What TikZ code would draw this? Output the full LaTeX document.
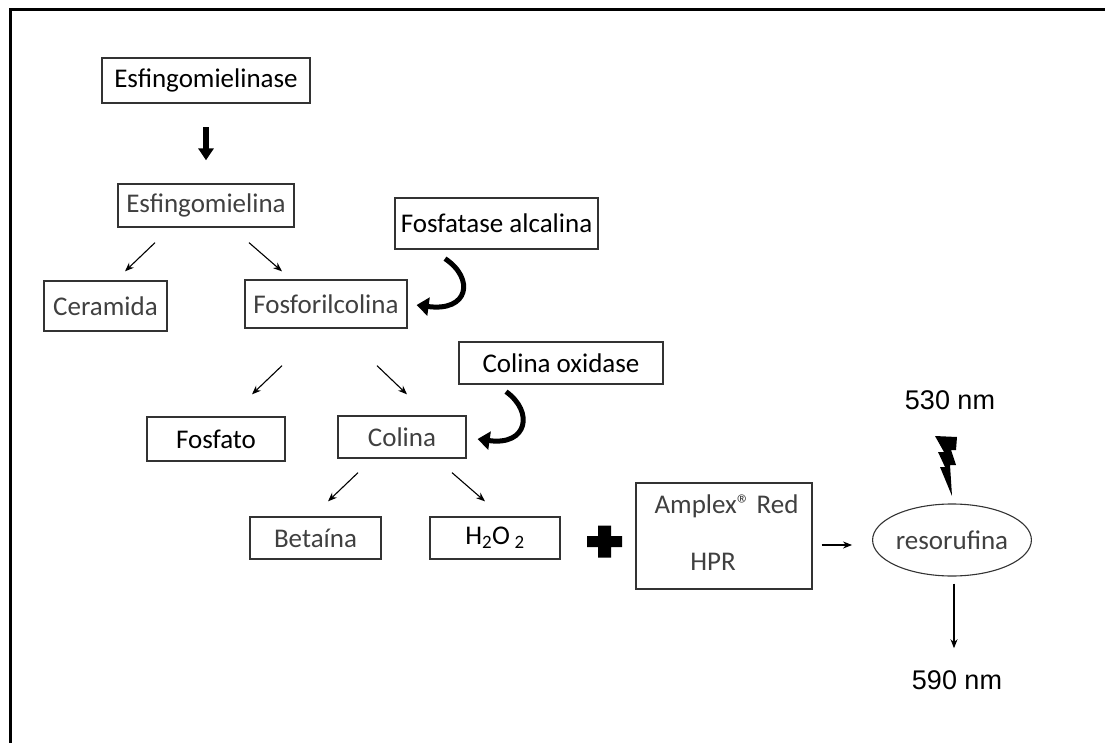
\documentclass[tikz,border=0pt]{standalone}
\usepackage{fontspec}
\setmainfont{Carlito}
\newfontfamily\arialfont{Liberation Sans}
\usetikzlibrary{arrows.meta,shapes.geometric}

\begin{document}
\begin{tikzpicture}[
  x=1pt, y=-1pt,
  every node/.style={inner sep=0pt, font=\fontsize{27}{32}\selectfont, text=black!75},
  caixa/.style={draw=black!80, line width=1.3pt},
  enzima/.style={caixa, text=black},
  seta/.style={line width=1.1pt, -{Stealth[length=9pt, width=7pt]}},
  volta/.style={line width=5pt, -{Triangle[length=12pt, width=18pt]}},
  onda/.style={font=\arialfont\fontsize{27}{32}\selectfont, text=black}
]
\useasboundingbox (0,0) rectangle (1105,743);
\draw[line width=3pt] (10,743) -- (10,9.5) -- (1105,9.5);

\node[enzima, line width=2.5pt, minimum width=208pt, minimum height=45pt] (ase) at (206,80.5) {Esfingomielinase};
\node[caixa, minimum width=176pt, minimum height=43pt] (ina) at (206,205.5) {Esfingomielina};
\node[enzima, minimum width=203pt, minimum height=51pt] (fosfatase) at (496.5,223.5) {Fosfatase alcalina};
\node[caixa, minimum width=123pt, minimum height=50pt] (ceramida) at (105.5,306) {Ceramida};
\node[caixa, minimum width=162pt, minimum height=48pt] (fosforil) at (326,304) {Fosforilcolina};
\node[enzima, minimum width=204pt, minimum height=42pt] (oxidase) at (561,363) {Colina oxidase};
\node[enzima, minimum width=138pt, minimum height=44pt] (fosfato) at (216,439) {Fosfato};
\node[caixa, minimum width=128pt, minimum height=42pt] (colina) at (402,437) {Colina};
\node[caixa, minimum width=131pt, minimum height=42pt] (betaina) at (315.5,538) {Betaína};
\node[enzima, minimum width=130pt, minimum height=42pt] (agua) at (495,538) {H\textsubscript{2}O\,\textsubscript{2}};
\node[caixa, minimum width=176pt, minimum height=106pt] (amplex) at (724,536) {};
\node[anchor=base] (amplexred) at ([shift={(2.5,31)}]amplex.north) {Amplex® Red};
\node[anchor=base] (hpr) at ([shift={(-11,-19)}]amplex.south) {HPR};
\node[ellipse, draw=black!80, line width=1.1pt, minimum width=134pt, minimum height=72pt] (resoruf) at (952,540) {resorufina};
\node[onda] (nm530) at (950,400) {530 nm};
\node[onda] (nm590) at (957,680) {590 nm};
\coordinate (mais) at (604.5,541.5);

\draw[line width=5.5pt, -{Triangle[length=12pt, width=15pt]}] ([shift={(0,23)}]ase.south) -- ([shift={(0,-23)}]ina.north);
\draw[seta] ([shift={(-51,15)}]ina.south) -- ([shift={(19.5,-9)}]ceramida.north);
\draw[seta] ([shift={(43,15)}]ina.south) -- ([shift={(-44,-8)}]fosforil.north);
\draw[seta] ([shift={(-44,37)}]fosforil.south) -- ([shift={(36,-22)}]fosfato.north);
\draw[seta] ([shift={(51,37)}]fosforil.south) -- ([shift={(5,-21)}]colina.north);
\draw[seta] ([shift={(-44,14)}]colina.south) -- ([shift={(12.5,-15)}]betaina.north);
\draw[seta] ([shift={(50,14)}]colina.south) -- ([shift={(-10,-15)}]agua.north);
\draw[volta] ([shift={(-51.5,9)}]fosfatase.south) .. controls +(30,20) and +(52,7) .. ([shift={(9,1)}]fosforil.east);
\draw[volta] ([shift={(-55,7)}]oxidase.south) .. controls +(28,20) and +(50,7) .. ([shift={(11,2)}]colina.east);
\draw[seta] ([shift={(9,9)}]amplex.east) -- ([shift={(-20,5)}]resoruf.west);
\draw[seta] ([shift={(2,7)}]resoruf.south) -- ([shift={(-3,-22)}]nm590.north);

\fill ([shift={(-17.5,-5.5)}]mais) rectangle ([shift={(17.5,5.5)}]mais)
      ([shift={(-6.5,-16)}]mais) rectangle ([shift={(6.5,16)}]mais);
\fill (935,436) -- (957,437) -- (956,450) -- (951,450) -- (956,465) -- (950,465) -- (952,496)
      -- (940,467) -- (945,467) -- (938,452) -- (944,452) -- cycle;
\end{tikzpicture}
\end{document}
